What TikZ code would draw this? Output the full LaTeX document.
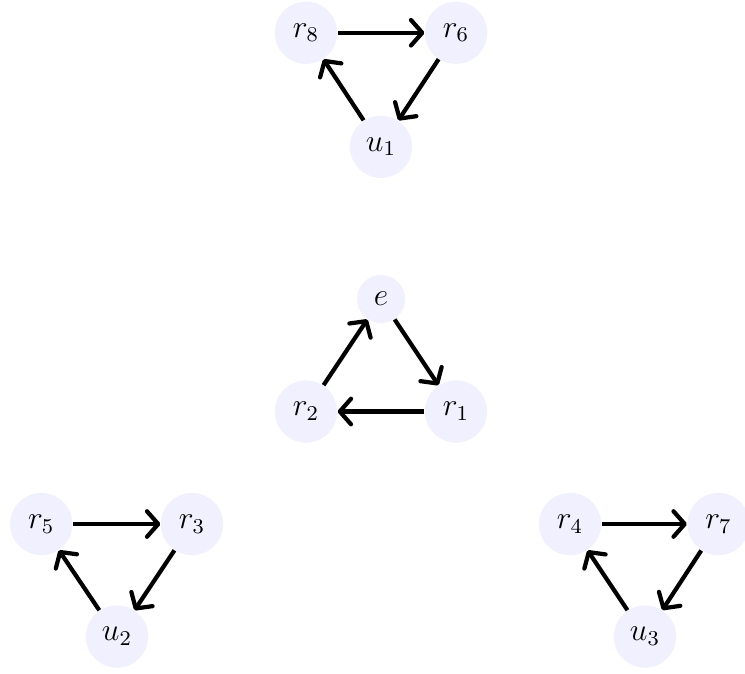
\documentclass[tikz,border=0pt]{standalone}
\usetikzlibrary{arrows.meta,positioning}

\begin{document}
\begin{tikzpicture}[
    vert/.style={circle, fill=blue!6, inner sep=0pt, minimum size=0.83cm, font=\large},
    link/.style={-{Straight Barb[length=1.5mm,width=3.4mm,round]}, line width=1.6pt}
]
\useasboundingbox (-5.08,-4.987) rectangle (4.853,3.987);
% middle triangle
\node[vert, minimum size=0.64cm] (e) at (0,0) {$e$};
\node[vert] (r2) at (-1,-1.5) {$r_2$};
\node[vert] (r1) at (1,-1.5) {$r_1$};
% top triangle
\node[vert] (u1) at (0,2.03) {$u_1$};
\node[vert] (r8) at (-1,3.55) {$r_8$};
\node[vert] (r6) at (1,3.55) {$r_6$};
% bottom left
\node[vert] (r5) at (-4.53,-3) {$r_5$};
\node[vert] (r3) at (-2.52,-3) {$r_3$};
\node[vert] (u2) at (-3.52,-4.5) {$u_2$};
% bottom right
\node[vert] (r4) at (2.52,-3) {$r_4$};
\node[vert] (r7) at (4.5,-3) {$r_7$};
\node[vert] (u3) at (3.52,-4.5) {$u_3$};
\draw[link] (e) -- (r1);
\draw[link] (r1) -- (r2);
\draw[link] (r2) -- (e);
\draw[link] (r8) -- (r6);
\draw[link] (r6) -- (u1);
\draw[link] (u1) -- (r8);
\draw[link] (r5) -- (r3);
\draw[link] (r3) -- (u2);
\draw[link] (u2) -- (r5);
\draw[link] (r4) -- (r7);
\draw[link] (r7) -- (u3);
\draw[link] (u3) -- (r4);
\end{tikzpicture}
\end{document}
